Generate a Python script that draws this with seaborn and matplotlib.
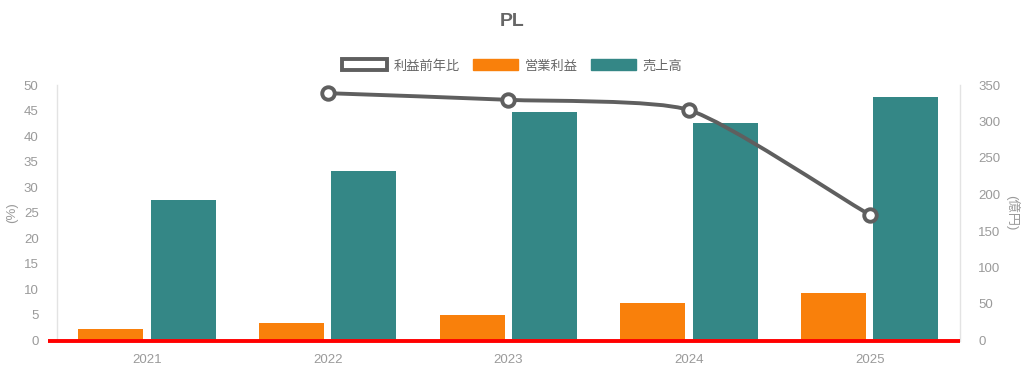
import numpy as np
import pandas as pd
import matplotlib
matplotlib.use("Agg")
import matplotlib.pyplot as plt
from matplotlib.patches import Patch
from matplotlib.path import Path
from matplotlib.patches import PathPatch
import seaborn as sns

# ---- data ----
years = ["2021", "2022", "2023", "2024", "2025"]
sales = [192, 232, 313, 298, 333]          # 売上高 (億円)
op_profit = [16, 24, 35.5, 51.5, 64.5]     # 営業利益 (億円)
yoy = [None, 48.4, 47.1, 45.1, 24.6]       # 利益前年比 (%)
left_ticks = [0, 5, 10, 15, 20, 25, 30, 35, 40, 45, 50]
right_ticks = [0, 50, 100, 150, 200, 250, 300, 350]

C_TEAL = "#348786"
C_ORANGE = "#F9800B"
C_LINE = "#5f5f5f"
C_TICK = "#9a9a9a"

sns.set_theme(style="white")
plt.rcParams["font.family"] = ["Liberation Sans", "Noto Sans CJK JP", "DejaVu Sans"]

W, H = 1024, 373
fig = plt.figure(figsize=(W / 100, H / 100), dpi=100)
x0, x1, ytop, ybot = 56.7, 960.0, 85.0, 340.5
ax = fig.add_axes([x0 / W, (H - ybot) / H, (x1 - x0) / W, (ybot - ytop) / H])
ax2 = ax.twinx()

df = pd.DataFrame({
    "year": years * 2,
    "value": op_profit + sales,
    "series": ["営業利益"] * len(years) + ["売上高"] * len(years),
})
sns.barplot(data=df, x="year", y="value", hue="series", ax=ax2,
            palette=[C_ORANGE, C_TEAL], width=0.8, gap=0.1,
            saturation=1, legend=False, edgecolor="none")

ax2.set_ylim(0, 350)
ax.set_ylim(0, 50)
ax.set_xlim(-0.5, len(years) - 0.5)
ax2.set_xlim(-0.5, len(years) - 0.5)

# line on top
ax.set_zorder(ax2.get_zorder() + 1)
ax.patch.set_visible(False)

# smooth line (Chart.js-like spline) computed in pixel space
sx = (x1 - x0) / len(years)
sy = (ybot - ytop) / 50.0
pts = [(i, v) for i, v in enumerate(yoy) if v is not None]
P = np.array([(i * sx, v * sy) for i, v in pts])
t = 0.2
n = len(P)
prev_c = P.copy()
next_c = P.copy()
for k in range(n):
    pr = P[k - 1] if k > 0 else P[k]
    nx = P[k + 1] if k < n - 1 else P[k]
    d01 = np.hypot(*(P[k] - pr))
    d12 = np.hypot(*(nx - P[k]))
    tot = d01 + d12
    s01 = d01 / tot if tot else 0
    s12 = d12 / tot if tot else 0
    prev_c[k] = P[k] - t * s01 * (nx - pr)
    next_c[k] = P[k] + t * s12 * (nx - pr)
verts = [P[0]]
codes = [Path.MOVETO]
for k in range(n - 1):
    verts += [next_c[k], prev_c[k + 1], P[k + 1]]
    codes += [Path.CURVE4] * 3
verts = np.array(verts)
verts[:, 0] /= sx
verts[:, 1] /= sy
path = Path(verts, codes)
ax.add_patch(PathPatch(path, facecolor="none", edgecolor=C_LINE, lw=2.8,
                       zorder=3, capstyle="round", joinstyle="round"))
ax.plot([p[0] for p in pts], [p[1] for p in pts], linestyle="none",
        marker="o", markersize=9, markerfacecolor="white",
        markeredgecolor=C_LINE, markeredgewidth=2.8, zorder=4, clip_on=False)

# axes styling
for a in (ax, ax2):
    a.spines["top"].set_visible(False)
    a.spines["bottom"].set_visible(False)
    a.spines["left"].set_color("#e3e3e3")
    a.spines["right"].set_color("#e3e3e3")
    a.spines["left"].set_linewidth(1)
    a.spines["right"].set_linewidth(1)
    a.grid(False)
    a.set_xlabel("")
ax.spines["right"].set_visible(False)
ax2.spines["left"].set_visible(False)

ax.set_yticks(left_ticks)
ax.set_yticklabels([str(v) for v in left_ticks])
ax2.set_yticks(right_ticks)
ax2.set_yticklabels([str(v) for v in right_ticks])
ax.set_xticks(range(len(years)))
ax.set_xticklabels(years)
ax2.tick_params(axis="x", bottom=False, labelbottom=False)
ax.tick_params(axis="both", length=0, labelsize=9.5, labelcolor=C_TICK)
ax.tick_params(axis="y", pad=13)
ax.tick_params(axis="x", pad=10)
ax2.tick_params(axis="y", length=0, labelsize=9.5, labelcolor=C_TICK, pad=13)
ax2.set_ylabel("")

# red baseline
ax.plot([-0.01, 1.0], [0, 0], transform=ax.transAxes, color="#ff0000",
        lw=2.8, clip_on=False, zorder=5, solid_capstyle="butt")

fig.text(12 / W, 1 - 213 / H, "(%)", rotation=90, ha="center", va="center",
         fontsize=9.5, color=C_TICK)
fig.text(1012 / W, 1 - 213 / H, "(億円)", rotation=270, ha="center", va="center",
         fontsize=9.5, color=C_TICK)

fig.text(0.5, 1 - 22 / H, "PL", ha="center", va="center", fontsize=14,
         fontweight="bold", color="#666666")

handles = [
    Patch(facecolor="white", edgecolor=C_LINE, linewidth=2.8, label="利益前年比"),
    Patch(facecolor=C_ORANGE, edgecolor=C_ORANGE, label="営業利益"),
    Patch(facecolor=C_TEAL, edgecolor=C_TEAL, label="売上高"),
]
leg = fig.legend(handles=handles, loc="center", bbox_to_anchor=(0.5, 1 - 66 / H),
                 ncol=3, frameon=False, fontsize=9.5, handlelength=3.4,
                 handleheight=0.9, handletextpad=0.5, columnspacing=1.0,
                 labelcolor="#666666")

fig.savefig("out.png", dpi=100)
